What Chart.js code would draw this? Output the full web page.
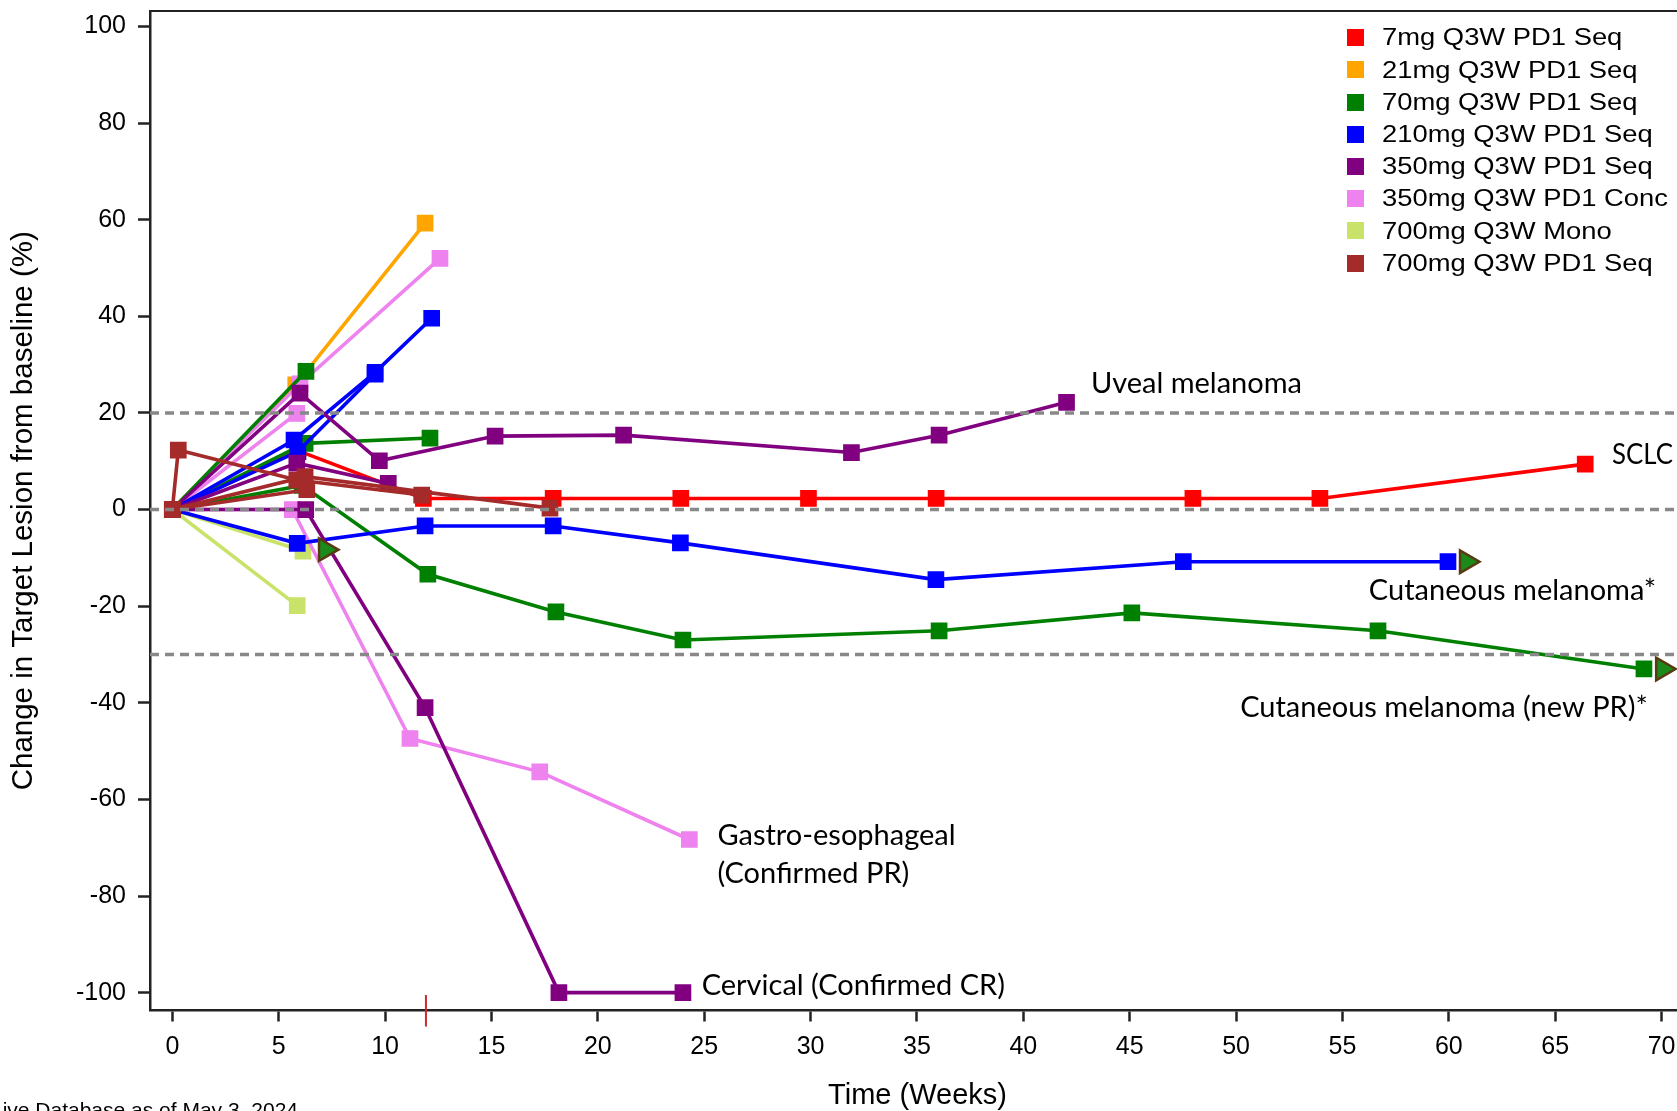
<!DOCTYPE html>
<html>
<head>
<meta charset="utf-8">
<script src="https://cdn.jsdelivr.net/npm/chart.js"></script>
<style>
  html, body { margin: 0; padding: 0; background: #fff; }
  body { width: 1677px; height: 1111px; overflow: hidden; position: relative; }
  #wrap { position: absolute; left: 0; top: 0; width: 1700px; height: 1130px; }
  #legend { position: absolute; left: 0; top: 0; }
  .lg-box { position: absolute; width: 17px; height: 17px; }
  .lg-text { position: absolute; font: 23px "Liberation Sans", Arial, sans-serif; line-height: 23px;
             color: #000; white-space: nowrap; transform: scaleX(1.19); transform-origin: left center; }
  #note { position: absolute; right: 1379px; top: 1099px; font: 21px "Liberation Sans", Arial, sans-serif;
          line-height: 21px; white-space: nowrap; color: #000; }
</style>
</head>
<body>
<div id="wrap"><canvas id="chart" width="1700" height="1130"></canvas></div>
<div id="legend"></div>
<div id="note">Live Database as of May 3, 2024</div>
<script>
// dose groups
const groupNames = ['7mg Q3W PD1 Seq', '21mg Q3W PD1 Seq', '70mg Q3W PD1 Seq', '210mg Q3W PD1 Seq',
                    '350mg Q3W PD1 Seq', '350mg Q3W PD1 Conc', '700mg Q3W Mono', '700mg Q3W PD1 Seq'];
const groupColors = ['#ff0000', '#ffa500', '#008000', '#0000ff', '#800080', '#ee82ee', '#c9e36a', '#a52a2a'];

// one pair of arrays per patient: weeks, % change from baseline
const red1Weeks = [0, 5.9, 11.8, 17.9, 23.9, 29.9, 35.9, 47.97, 53.94, 66.41];
const red1Change = [0, 12.2, 2.3, 2.3, 2.3, 2.3, 2.3, 2.3, 2.3, 9.4];

const orange1Weeks = [0, 5.8, 11.88];
const orange1Change = [0, 25.8, 59.3];

const green1Weeks = [0, 6.28];
const green1Change = [0, 28.6];
const green2Weeks = [0, 6.24, 12.11];
const green2Change = [0, 13.7, 14.8];
const green3Weeks = [0, 6.1, 12.01, 18.03, 24.0, 36.04, 45.1, 56.67, 69.17];
const green3Change = [0, 5.0, -13.4, -21.2, -27.0, -25.1, -21.4, -25.1, -33.0];

const blue1Weeks = [0, 5.72, 9.53, 12.19];
const blue1Change = [0, 14.4, 28.4, 39.6];
const blue2Weeks = [0, 5.9, 9.53];
const blue2Change = [0, 12.0, 28.0];
const blue3Weeks = [0, 5.87, 11.88, 17.9, 23.88, 35.89, 47.52, 59.96];
const blue3Change = [0, -7.0, -3.4, -3.4, -6.9, -14.5, -10.8, -10.8];

const purple1Weeks = [0, 6.0, 9.73, 15.17, 21.21, 31.92, 36.04, 42.03];
const purple1Change = [0, 24.1, 10.1, 15.2, 15.4, 11.8, 15.4, 22.2];
const purple2Weeks = [0, 5.85, 10.15];
const purple2Change = [0, 9.6, 5.4];
const purple3Weeks = [0, 6.27, 11.88, 18.17, 24.0];
const purple3Change = [0, 0, -41.0, -100, -100];

const pink1Weeks = [0, 6.0, 12.58];
const pink1Change = [0, 26.0, 52.0];
const pink2Weeks = [0, 5.85];
const pink2Change = [0, 19.9];
const pink3Weeks = [0, 5.64, 11.17, 17.27, 24.3];
const pink3Change = [0, 0, -47.4, -54.3, -68.3];

const lime1Weeks = [0, 6.14];
const lime1Change = [0, -8.6];
const lime2Weeks = [0, 5.87];
const lime2Change = [0, -19.9];

const brown1Weeks = [0, 0.28, 5.85, 11.72];
const brown1Change = [0, 12.3, 6.1, 3.0];
const brown2Weeks = [0, 6.24, 17.75];
const brown2Change = [0, 6.8, 0.3];
const brown3Weeks = [0, 6.32];
const brown3Change = [0, 4.1];

// ongoing treatment arrows
const arrowWeeks = [7.2, 60.83, 70.05];
const arrowChange = [-8.3, -10.8, -33.0];

// reference lines (%)
const refLevels = [20, 0, -30];

// week-12 marker on the x axis
const markWeek = 11.92;

// text labels: left edge (weeks), baseline (%)
const annoText = ['Uveal melanoma', 'SCLC', 'Cutaneous melanoma*', 'Cutaneous melanoma (new PR)*',
                  'Gastro-esophageal', '(Confirmed PR)', 'Cervical (Confirmed CR)'];
const annoWeeks = [43.18, 67.67, 56.24, 50.19, 25.62, 25.62, 24.88];
const annoChange = [24.1, 9.4, -18.7, -43.0, -69.5, -77.3, -100.4];

const xMin = -1.05, xMax = 71.1;
const yMin = -103.7, yMax = 103.2;

// group index, weeks, change, draw order (lower = on top)
const patients = [
  [7, brown1Weeks, brown1Change, 1], [7, brown2Weeks, brown2Change, 1], [7, brown3Weeks, brown3Change, 1],
  [4, purple1Weeks, purple1Change, 2], [4, purple2Weeks, purple2Change, 2], [4, purple3Weeks, purple3Change, 3],
  [3, blue1Weeks, blue1Change, 3], [3, blue2Weeks, blue2Change, 3], [3, blue3Weeks, blue3Change, 3],
  [5, pink3Weeks, pink3Change, 3],
  [2, green1Weeks, green1Change, 4], [2, green2Weeks, green2Change, 4], [2, green3Weeks, green3Change, 4],
  [0, red1Weeks, red1Change, 5],
  [5, pink1Weeks, pink1Change, 6], [5, pink2Weeks, pink2Change, 6],
  [1, orange1Weeks, orange1Change, 7],
  [6, lime1Weeks, lime1Change, 8], [6, lime2Weeks, lime2Change, 8]
];

const datasets = patients.map(function(p){
  const color = groupColors[p[0]];
  return {
    label: groupNames[p[0]],
    data: p[1].map(function(w, i){ return {x: w, y: p[2][i]}; }),
    borderColor: color,
    backgroundColor: color,
    borderWidth: 3.6,
    pointStyle: 'rect',
    pointRadius: 11.8,
    pointBorderWidth: 0,
    pointBackgroundColor: color,
    tension: 0,
    order: p[3]
  };
});

datasets.push({
  label: 'ongoing',
  data: arrowWeeks.map(function(w, i){ return {x: w, y: arrowChange[i]}; }),
  showLine: false,
  pointStyle: 'triangle',
  pointRotation: 90,
  pointRadius: 13,
  pointBackgroundColor: '#1a8a1a',
  pointBorderColor: '#5a3a12',
  pointBorderWidth: 2.5,
  order: 0
});

refLevels.forEach(function(level){
  datasets.push({
    label: 'ref',
    data: [{x: xMin, y: level}, {x: xMax, y: level}],
    borderColor: '#888888',
    borderWidth: 3.5,
    borderDash: [9, 6],
    pointRadius: 0,
    order: -1
  });
});

const extrasPlugin = {
  id: 'extras',
  afterDatasetsDraw(chart) {
    const ctx = chart.ctx;
    const area = chart.chartArea;
    const x = chart.scales.x, y = chart.scales.y;
    ctx.save();
    // top frame
    ctx.strokeStyle = '#222';
    ctx.lineWidth = 2;
    ctx.beginPath();
    ctx.moveTo(area.left, area.top);
    ctx.lineTo(area.right, area.top);
    ctx.stroke();
    // week 12 mark
    const mx = x.getPixelForValue(markWeek);
    ctx.strokeStyle = '#c62a2a';
    ctx.lineWidth = 2;
    ctx.beginPath();
    ctx.moveTo(mx, y.getPixelForValue(-100.5));
    ctx.lineTo(mx, area.bottom + 16);
    ctx.stroke();
    // labels
    ctx.fillStyle = '#000';
    ctx.font = '29px Lato';
    ctx.textAlign = 'left';
    ctx.textBaseline = 'alphabetic';
    annoText.forEach(function(t, i){
      const px = x.getPixelForValue(annoWeeks[i]);
      ctx.fillText(t, px, y.getPixelForValue(annoChange[i]), 1673 - px);
    });
    ctx.restore();
  }
};

const ctx = document.getElementById('chart').getContext('2d');
const chart = new Chart(ctx, {
  type: 'line',
  data: { datasets: datasets },
  options: {
    responsive: false,
    animation: false,
    devicePixelRatio: 1,
    layout: { autoPadding: false, padding: { top: 11, right: 15, bottom: 0, left: 0 } },
    plugins: {
      legend: { display: false },
      tooltip: { enabled: false }
    },
    scales: {
      x: {
        type: 'linear',
        min: xMin,
        max: xMax,
        ticks: { stepSize: 5, includeBounds: false, padding: 11, color: '#000',
                 font: { family: 'Liberation Sans', size: 25 } },
        grid: { drawOnChartArea: false, drawTicks: true, tickLength: 11, tickWidth: 2.5, tickColor: '#222' },
        border: { display: true, color: '#222', width: 2.5 },
        title: { display: true, text: 'Time (Weeks)', color: '#000',
                 font: { family: 'Liberation Sans', size: 29 }, padding: { top: 0, bottom: 16.5 } },
        afterFit: function(scale){ scale.height = 119.5; scale.paddingLeft = 0; scale.paddingRight = 0; }
      },
      y: {
        min: yMin,
        max: yMax,
        ticks: { stepSize: 20, includeBounds: false, padding: 12, color: '#000',
                 font: { family: 'Liberation Sans', size: 25 } },
        grid: { drawOnChartArea: false, drawTicks: true, tickLength: 12, tickWidth: 2.5, tickColor: '#222' },
        border: { display: true, color: '#222', width: 2.5 },
        title: { display: true, text: 'Change in Target Lesion from baseline (%)', color: '#000',
                 font: { family: 'Liberation Sans', size: 29.5 }, padding: { top: 6, bottom: 0 } },
        afterFit: function(scale){ scale.width = 150; scale.paddingTop = 0; scale.paddingBottom = 0; }
      }
    }
  },
  plugins: [extrasPlugin]
});

// legend: one entry per dose group
const legend = document.getElementById('legend');
groupNames.forEach(function(name, i){
  const cy = 37.7 + 32.2 * i;
  const box = document.createElement('div');
  box.className = 'lg-box';
  box.style.left = '1347px';
  box.style.top = (cy - 8.5) + 'px';
  box.style.background = groupColors[i];
  legend.appendChild(box);
  const txt = document.createElement('div');
  txt.className = 'lg-text';
  txt.style.left = '1382px';
  txt.style.top = (cy - 11.3) + 'px';
  txt.textContent = name;
  legend.appendChild(txt);
});
</script>
</body>
</html>
